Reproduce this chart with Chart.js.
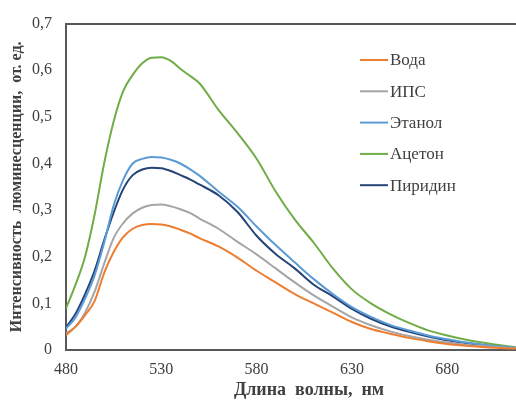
<!DOCTYPE html>
<html>
<head>
<meta charset="utf-8">
<script src="https://cdn.jsdelivr.net/npm/chart.js@4"></script>
<style>
  html, body { margin: 0; padding: 0; background: #fff; overflow: hidden; }
  canvas { display: block; }
</style>
</head>
<body>
<canvas id="spectra" width="552" height="401"></canvas>
<script>
// длины волн, нм
const wavelengths = [480, 485, 490, 495, 500, 505, 510, 515, 520, 525, 530, 535, 540, 545, 550,
  560, 570, 580, 590, 600, 610, 620, 630, 640, 650, 660, 670, 680, 690, 700, 710, 716];

// интенсивность люминесценции, отн. ед.
const voda = [0.032, 0.05, 0.075, 0.105, 0.165, 0.21, 0.242, 0.26, 0.268, 0.27, 0.269, 0.265, 0.258, 0.25, 0.24,
  0.222, 0.198, 0.17, 0.145, 0.12, 0.1, 0.08, 0.06, 0.045, 0.035, 0.026, 0.019, 0.013, 0.009, 0.006, 0.004, 0.003];
const ips = [0.036, 0.05, 0.08, 0.125, 0.185, 0.24, 0.272, 0.293, 0.305, 0.311, 0.312, 0.308, 0.302, 0.294, 0.282,
  0.26, 0.232, 0.205, 0.175, 0.145, 0.117, 0.093, 0.07, 0.053, 0.04, 0.03, 0.022, 0.016, 0.011, 0.008, 0.005, 0.004];
const etanol = [0.046, 0.07, 0.11, 0.16, 0.23, 0.31, 0.365, 0.4, 0.41, 0.414, 0.413, 0.408, 0.4, 0.388, 0.374,
  0.34, 0.307, 0.265, 0.225, 0.188, 0.152, 0.12, 0.092, 0.071, 0.054, 0.042, 0.031, 0.023, 0.016, 0.011, 0.007, 0.005];
const aceton = [0.089, 0.14, 0.2, 0.29, 0.4, 0.49, 0.555, 0.59, 0.615, 0.627, 0.628, 0.62, 0.603, 0.588, 0.572,
  0.515, 0.465, 0.41, 0.34, 0.28, 0.23, 0.175, 0.13, 0.1, 0.077, 0.058, 0.042, 0.031, 0.022, 0.015, 0.009, 0.006];
const piridin = [0.048, 0.078, 0.12, 0.17, 0.235, 0.295, 0.345, 0.375, 0.387, 0.391, 0.39, 0.384, 0.375, 0.366, 0.355,
  0.332, 0.296, 0.245, 0.206, 0.175, 0.14, 0.115, 0.088, 0.067, 0.051, 0.039, 0.029, 0.021, 0.015, 0.01, 0.006, 0.004];

const seriesNames = ['Вода', 'ИПС', 'Этанол', 'Ацетон', 'Пиридин'];
const seriesColors = ['#ED7D31', '#A5A5A5', '#5B9BD5', '#70AD47', '#264478'];
const seriesValues = [voda, ips, etanol, aceton, piridin];

const xTicks = [480, 530, 580, 630, 680];
const yTicks = [0, 0.1, 0.2, 0.3, 0.4, 0.5, 0.6, 0.7];

const serif = "'Liberation Serif', 'Times New Roman', serif";
const axisColor = '#595959';
const textColor = '#404040';

// легенда справа, как в исходнике
const legendPlugin = {
  id: 'sideLegend',
  afterDatasetsDraw(chart) {
    const c = chart.ctx;
    c.save();
    c.font = '17px ' + serif;
    c.textBaseline = 'middle';
    c.fillStyle = textColor;
    chart.data.datasets.forEach((ds, i) => {
      const y = 60 + i * 31.3;
      c.strokeStyle = ds.borderColor;
      c.lineWidth = 2;
      c.beginPath();
      c.moveTo(360, y);
      c.lineTo(388, y);
      c.stroke();
      c.fillText(ds.label, 390, y + 1);
    });
    c.restore();
  }
};

const ctx = document.getElementById('spectra').getContext('2d');
const chart = new Chart(ctx, {
  type: 'line',
  data: {
    labels: wavelengths,
    datasets: seriesNames.map((name, i) => ({
      label: name,
      data: seriesValues[i].map((v, j) => ({ x: wavelengths[j], y: v })),
      borderColor: seriesColors[i],
      backgroundColor: seriesColors[i],
      borderWidth: 2,
      pointRadius: 0,
      cubicInterpolationMode: 'monotone',
      fill: false
    }))
  },
  options: {
    responsive: false,
    animation: false,
    layout: { padding: { top: 21, left: 0, right: 0, bottom: 0 } },
    plugins: {
      legend: { display: false },
      tooltip: { enabled: false }
    },
    scales: {
      x: {
        type: 'linear',
        min: 480,
        max: 735,
        afterFit(scale) { scale.height = 51; },
        afterBuildTicks(scale) { scale.ticks = xTicks.map(v => ({ value: v })); },
        ticks: {
          padding: 10,
          color: textColor,
          font: { family: serif, size: 16 }
        },
        grid: { display: false, drawTicks: false },
        border: { display: true, color: axisColor, width: 2 },
        title: {
          display: true,
          text: 'Длина  волны,  нм',
          color: textColor,
          font: { family: serif, size: 18, weight: 'bold' },
          padding: { top: 0, bottom: 0 }
        }
      },
      y: {
        min: 0,
        max: 0.7,
        afterFit(scale) { scale.width = 66; },
        afterBuildTicks(scale) { scale.ticks = yTicks.map(v => ({ value: v })); },
        ticks: {
          padding: 14,
          color: textColor,
          font: { family: serif, size: 16 },
          callback: v => (v === 0 ? '0' : v.toFixed(1).replace('.', ','))
        },
        grid: {
          display: true,
          drawTicks: false,
          lineWidth: 2,
          color: c => (Math.abs(c.tick.value - 0.7) < 1e-9 ? axisColor : 'rgba(0,0,0,0)')
        },
        border: { display: true, color: axisColor, width: 2 },
        title: {
          display: true,
          text: 'Интенсивность  люминесценции,  от. ед.',
          color: textColor,
          font: { family: serif, size: 16, weight: 'bold' },
          padding: { top: 7, bottom: 0 }
        }
      }
    }
  },
  plugins: [legendPlugin]
});
</script>
</body>
</html>
